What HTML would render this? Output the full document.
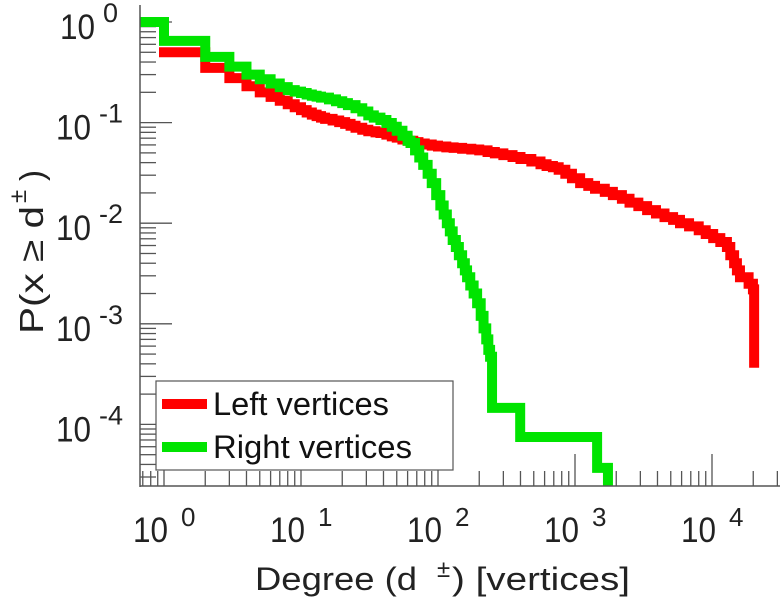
<!DOCTYPE html>
<html><head><meta charset="utf-8"><style>
html,body{margin:0;padding:0;background:#fff;}
svg{display:block;font-family:"Liberation Sans",sans-serif;}
</style></head><body>
<svg id="chart" width="780" height="600" viewBox="0 0 780 600">
<defs><clipPath id="plotclip"><rect x="140" y="0" width="640" height="486"/></clipPath></defs>
<g id="grid-ticks"></g>
<g id="series" clip-path="url(#plotclip)"></g>
<line x1="140" y1="5" x2="140" y2="487" stroke="#555" stroke-width="1.5"/>
<line x1="140" y1="486" x2="780" y2="486" stroke="#555" stroke-width="1.5"/>
<g id="labels" fill="#222"></g>
<text x="255" y="590" font-size="32" fill="#222" textLength="162" lengthAdjust="spacingAndGlyphs">Degree (d</text>
<text x="437" y="577" font-size="24" fill="#222">±</text>
<text x="452" y="590" font-size="32" fill="#222" textLength="178" lengthAdjust="spacingAndGlyphs">) [vertices]</text>
<g transform="translate(43,334) rotate(-90)" fill="#222">
<text x="0" y="0" font-size="33" textLength="128" lengthAdjust="spacingAndGlyphs">P(x ≥ d</text>
<text x="131" y="-17" font-size="24">±</text>
<text x="153" y="0" font-size="33">)</text>
</g>
<g>
<rect x="156" y="381" width="297" height="89" fill="#fff" stroke="#555" stroke-width="1.2"/>
<line x1="162" y1="404" x2="207" y2="404" stroke="#ff0000" stroke-width="10"/>
<text x="213" y="415" font-size="32" fill="#111" textLength="176" lengthAdjust="spacingAndGlyphs">Left vertices</text>
<line x1="162" y1="447" x2="207" y2="447" stroke="#00e400" stroke-width="10"/>
<text x="213" y="458" font-size="32" fill="#111" textLength="199" lengthAdjust="spacingAndGlyphs">Right vertices</text>
</g>
</svg>
<script>
const leftDegrees=[1,2,3,4,5,6,7,8,9,10,11,12,13,14,15,17,19,21,23,25,28,31,35,38,42,46,50,55,60,66,72,80,90,100,115,130,150,175,200,230,260,300,350,400,480,560,620,690,760,850,950,1090,1250,1400,1650,1890,2200,2500,2900,3360,3900,4500,5200,5840,6800,8000,9000,10200,11500,12850,13600,14500,15200,16000,17500,18500,19900,20300];
const leftProb=[.5,.35,.277,.23,.2,.18,.165,.152,.142,.133,.126,.12,.116,.112,.109,.105,.101,.097,.093,.089,.085,.082,.080,.0788,.076,.073,.071,.068,.066,.064,.062,.0605,.059,.0578,.0568,.056,.055,.054,.053,.051,.0495,.0475,.0455,.0435,.041,.0385,.037,.036,.034,.031,.028,.025,.0235,.022,.0205,.019,.0175,.016,.0148,.0135,.0125,.0115,.0108,.010,.0093,.0085,.0078,.0071,.0065,.0058,.0048,.0040,.0034,.0029,.0029,.0025,.0022,.00041];
const rightDegrees=[0.5,1,2,3,4,5,6,7,8,9,10,11,12,13,14,16,18,20,22,25,28,31,34,38,42,46,50,55,60,63,68,73,78,84,90,97,104,110,116,122,128,135,142,150,157,163,172,182,193,205,215,225,233,240,248,398,1450,1740];
const rightProb=[1,.65,.45,.36,.3,.27,.245,.225,.21,.203,.197,.19,.185,.181,.177,.17,.163,.156,.149,.139,.129,.118,.112,.106,.099,.091,.083,.074,.066,.0627,.053,.045,.038,.031,.025,.019,.015,.0122,.010,.0083,.0068,.0058,.0048,.0040,.0034,.0029,.0024,.0020,.0016,.0012,.0009,.0007,.00055,.00047,.000146,.000075,.000037,.000015];
const xTickExps=[0,1,2,3,4];
const yTickExps=[0,-1,-2,-3,-4];

const NS="http://www.w3.org/2000/svg";
function X(d){return 164+137*Math.log10(d);}
function Y(p){return 22-100.6*Math.log10(p);}
function mk(tag,attrs,parent){const e=document.createElementNS(NS,tag);for(const k in attrs)e.setAttribute(k,attrs[k]);parent.appendChild(e);return e;}

const ticks=document.getElementById('grid-ticks');
for(let n=-1;n<=5;n++){for(let k=1;k<=9;k++){const v=k*Math.pow(10,n);const x=X(v);if(x<141||x>779)continue;const len=k===1?32:15;
const t=mk('line',{x1:x,y1:486,x2:x,y2:486-len,stroke:'#555','stroke-width':1.3},ticks);

}}
for(let n=-5;n<=0;n++){for(let k=1;k<=9;k++){const v=k*Math.pow(10,n);const y=Y(v);if(y<5||y>485)continue;const len=k===1?32:16;
const t=mk('line',{x1:140,y1:y,x2:140+len,y2:y,stroke:'#555','stroke-width':1.3},ticks);

}}

const series=document.getElementById('series');
function stepPath(ds,ps){let s='M'+X(ds[0])+','+Y(ps[0]);for(let i=1;i<ds.length;i++){s+=' H'+X(ds[i])+' V'+Y(ps[i]);}return s;}
const pl=mk('path',{d:stepPath(leftDegrees,leftProb),fill:'none',stroke:'#ff0000','stroke-width':10,'stroke-linejoin':'miter','stroke-linecap':'square'},series);


const pr=mk('path',{d:stepPath(rightDegrees,rightProb),fill:'none',stroke:'#00e400','stroke-width':10,'stroke-linejoin':'miter'},series);



const labels=document.getElementById('labels');
xTickExps.forEach(e=>{const x=X(Math.pow(10,e));
const b=mk('text',{x:x-31,y:542,'font-size':35,textLength:35,lengthAdjust:'spacingAndGlyphs'},labels);b.textContent='10';


const s=mk('text',{x:x+17,y:526,'font-size':26},labels);s.textContent=String(e);

});
yTickExps.forEach(e=>{const y=Y(Math.pow(10,e));
const b=mk('text',{x:e===0?95:91,y:y+17,'font-size':35,'text-anchor':'end',textLength:35,lengthAdjust:'spacingAndGlyphs'},labels);b.textContent='10';


const s=mk('text',{x:e===0?103:99,y:y,'font-size':27},labels);s.textContent=String(e);

});
</script>
</body></html>
